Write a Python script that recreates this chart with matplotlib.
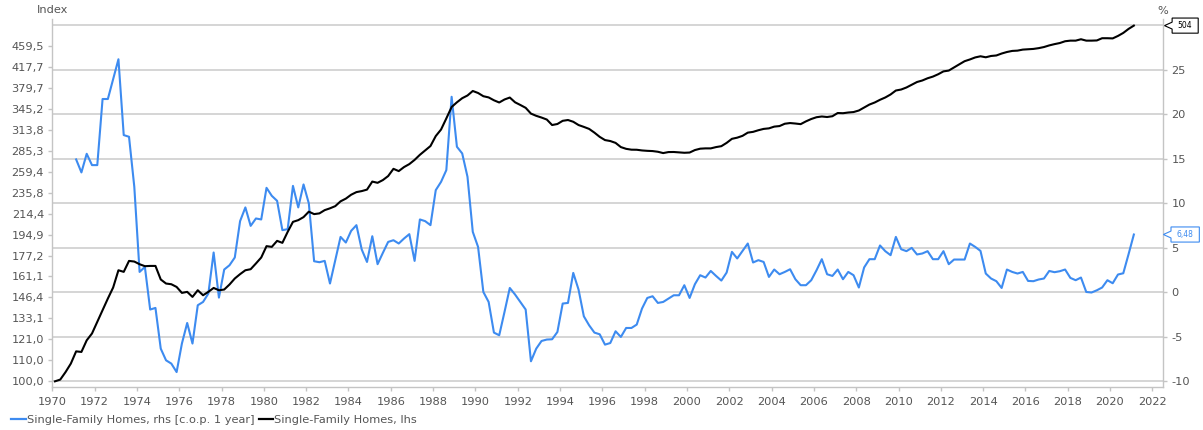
import numpy as np
import pandas as pd
import matplotlib
matplotlib.use("Agg")
import matplotlib.pyplot as plt
from matplotlib.path import Path

plt.rcParams['font.family'] = ['DejaVu Sans']

# --- Data: quarterly, 1970Q1 .. 2021Q1 ---
# Single-family homes price index (lhs, log scale)
homes_index = [
    100.0, 100.8, 104.3, 108.4, 114.6, 114.3, 120.5, 124.3, 131.0, 138.2,
    145.7, 153.2, 165.7, 164.5, 172.9, 172.4, 170.3, 168.8, 169.0, 169.0,
    158.9, 156.0, 155.5, 153.6, 149.5, 150.2, 146.8, 151.3, 147.9, 150.2,
    152.9, 151.3, 151.8, 155.3, 159.6, 162.8, 165.7, 166.5, 170.9, 175.6,
    184.9, 184.3, 189.4, 187.7, 197.3, 206.5, 208.1,
    211.0, 216.3, 213.9, 214.6, 217.8, 219.6, 221.8, 226.7, 229.5, 233.6,
    236.4, 237.5, 239.1, 248.0, 246.6, 249.7, 254.3, 262.8, 260.1, 264.9,
    268.5, 273.7, 280.1, 285.8, 291.5, 305.0, 314.2, 330.5, 348.1, 355.6,
    362.3, 366.8, 374.4, 371.0, 365.6, 363.6, 358.9, 355.3, 360.2, 363.4,
    355.6, 351.3, 346.8, 337.8, 334.4,
    331.8, 328.8, 320.7, 322.2, 326.9, 328.1, 325.5, 320.7, 318.0, 315.1,
    309.8, 303.9, 299.5, 298.2, 295.7, 290.1, 287.8, 286.7, 286.6, 285.7,
    285.2, 284.9, 284.0, 282.3, 283.6, 283.7, 283.2, 282.7, 283.0, 286.2,
    288.0, 288.4, 288.4, 290.1, 291.3, 295.7, 301.2, 302.8, 305.3, 309.8,
    310.9, 313.2, 315.1, 315.9, 318.4, 319.2,
    322.6, 323.6, 322.9, 322.0, 326.1, 329.6, 332.3, 333.4, 332.6, 333.8,
    338.7, 338.4, 339.5, 340.2, 342.6, 347.3, 352.0, 355.3, 359.7, 363.5,
    368.5, 375.2, 376.9, 380.4, 385.1, 390.0, 392.7, 396.7, 399.7, 404.0,
    409.3, 410.8, 416.8, 422.7, 428.7, 432.1, 436.1, 438.4, 436.4, 439.0,
    440.0, 443.9, 447.0, 449.2, 449.8,
    451.9, 452.6, 453.3, 454.9, 457.2, 460.6, 463.3, 465.6, 469.4, 470.7,
    470.7, 473.7, 470.7, 470.7, 471.1, 475.9, 475.9, 475.5, 480.9, 487.5,
    496.5, 504.0,
]

# Year-on-year change, % (rhs), 1971Q1 .. 2021Q1
homes_yoy = [
    14.91, 13.45, 15.54, 14.27, 14.27, 21.69, 21.69, 23.90, 26.15, 17.64,
    17.45, 11.83, 2.28, 2.84, -1.94, -1.76, -6.33, -7.64, -8.01, -8.96,
    -5.76, -3.45, -5.76, -1.46, -1.09, -0.15, 4.46, -0.60, 2.55, 3.03,
    3.90, 7.98, 9.52, 7.45, 8.28, 8.17, 11.72, 10.82, 10.26, 6.97,
    7.08, 11.94, 9.52,
    12.10, 9.97, 3.48, 3.37, 3.52, 0.98, 3.60, 6.21, 5.58, 6.89,
    7.53, 4.80, 3.40, 6.29, 3.15, 4.42, 5.65, 5.84, 5.47, 6.03,
    6.52, 3.52, 8.17, 7.98, 7.53, 11.46, 12.39, 13.71, 21.94, 16.33,
    15.58, 12.96, 6.78, 5.09, 0.03, -1.09, -4.53, -4.83, -2.21, 0.48,
    -0.26, -1.09, -1.94, -7.75, -6.33, -5.47,
    -5.31, -5.28, -4.46, -1.27, -1.20, 2.17, 0.30, -2.70, -3.71, -4.53,
    -4.72, -5.88, -5.70, -4.38, -5.02, -4.01, -4.01, -3.63, -1.83, -0.64,
    -0.45, -1.20, -1.09, -0.71, -0.34, -0.34, 0.79, -0.64, 0.90, 1.91,
    1.65, 2.39, 1.83, 1.31, 2.21, 4.53, 3.79, 4.64, 5.47, 3.34,
    3.60, 3.40, 1.72, 2.55, 2.02,
    2.28, 2.58, 1.46, 0.79, 0.79, 1.35, 2.47, 3.71, 2.02, 1.83,
    2.55, 1.46, 2.28, 1.91, 0.53, 2.78, 3.71, 3.71, 5.25, 4.61,
    4.16, 6.21, 4.83, 4.61, 4.98, 4.24, 4.35, 4.61, 3.71, 3.71,
    4.61, 3.15, 3.67, 3.67, 3.67, 5.47, 5.09, 4.64, 2.10, 1.54,
    1.24, 0.48, 2.55, 2.28, 2.10,
    2.28, 1.27, 1.24, 1.43, 1.54, 2.39, 2.25, 2.36, 2.55, 1.61,
    1.35, 1.65, 0.03, -0.03, 0.22, 0.53, 1.35, 1.01, 1.99, 2.13,
    4.27, 6.48,
]

left_ticks = [100.0, 110.0, 121.0, 133.1, 146.4, 161.1, 177.2, 194.9, 214.4,
              235.8, 259.4, 285.3, 313.8, 345.2, 379.7, 417.7, 459.5]
right_ticks = [-10, -5, 0, 5, 10, 15, 20, 25]
grid_levels = [-10, -5, 0, 5, 10, 15, 20, 25, 30]
year_ticks = list(range(1970, 2023, 2))

label_blue = "Single-Family Homes, rhs [c.o.p. 1 year]"
label_black = "Single-Family Homes, lhs"
last_index_text = "504"
last_yoy_text = "6,48"

BLUE = '#3d8bf0'
GREY_TXT = '#555555'
GREY_LINE = '#c4c4c4'
FS = 8.2

# quarterly time axis (mid-quarter as fractional year)
q_index = pd.period_range('1970Q1', periods=len(homes_index), freq='Q')
t_index = q_index.year + (q_index.quarter - 1) / 4 + 0.125
q_yoy = pd.period_range('1971Q1', periods=len(homes_yoy), freq='Q')
t_yoy = q_yoy.year + (q_yoy.quarter - 1) / 4 + 0.125


def callout(x0, y0, width, height, mutation_size):
    # rectangle with a small pointer on its left side
    px, py = 0.75 * mutation_size, 0.4 * mutation_size
    tip = 1.0 * mutation_size
    x0, y0 = x0 - px, y0 - py
    x1, y1 = x0 + width + 2 * px, y0 + height + 2 * py
    ym = (y0 + y1) / 2
    h = 0.45 * mutation_size
    verts = [(x0, y0), (x1, y0), (x1, y1), (x0, y1), (x0, ym + h),
             (x0 - tip, ym), (x0, ym - h), (x0, y0)]
    return Path(verts, closed=True)


fig = plt.figure(figsize=(12.03, 4.30), dpi=100)
ax = fig.add_axes([0.0435, 0.0993, 0.9232, 0.8565])
axl = ax.twinx()

ylo, yhi = -10.67, 30.67
ax.set_ylim(ylo, yhi)
ax.set_xlim(1970, 2022.5)

# right axis: yoy %, host of the grid
for g in grid_levels:
    ax.axhline(g, color='#d2d2d2', lw=1.3, zorder=0)
ax.plot(t_yoy, homes_yoy, color=BLUE, lw=1.5, zorder=2)

# left axis: index on log scale, aligned so 100 <-> -10 and 100*1.1^17 <-> 30
axl.set_yscale('log')
axl.set_ylim(100 * 1.1 ** (17 * (ylo + 10) / 40), 100 * 1.1 ** (17 * (yhi + 10) / 40))
axl.plot(t_index, homes_index, color='black', lw=1.5, zorder=3)

# ticks and labels
ax.yaxis.tick_right()
ax.set_yticks(right_ticks)
ax.set_yticklabels([str(v) for v in right_ticks])
ax.set_xticks(year_ticks)
ax.set_xticklabels([str(y) for y in year_ticks])

axl.yaxis.tick_left()
axl.yaxis.set_minor_locator(matplotlib.ticker.NullLocator())
axl.set_yticks(left_ticks)
axl.set_yticklabels([f"{v:.1f}".replace('.', ',') for v in left_ticks])

for a in (ax, axl):
    a.tick_params(axis='both', colors=GREY_LINE, labelcolor=GREY_TXT,
                  labelsize=FS, length=3, width=1, pad=3)
    for s in a.spines.values():
        s.set_visible(False)
ax.tick_params(axis='x', pad=4)
for side in ('left', 'right', 'bottom'):
    ax.spines[side].set_visible(True)
    ax.spines[side].set_color(GREY_LINE)
    ax.spines[side].set_linewidth(1)

fig.text(0.0435, 0.977, "Index", ha='center', va='center', fontsize=FS, color=GREY_TXT)
fig.text(0.9667, 0.975, "%", ha='center', va='center', fontsize=FS, color=GREY_TXT)

# last-value callouts on the right edge
axl.annotate(last_index_text, xy=(1, homes_index[-1]), xycoords=('axes fraction', 'data'),
             xytext=(16, 0), textcoords='offset points', ha='center', va='center',
             fontsize=5.5, color='black', annotation_clip=False,
             bbox=dict(boxstyle=callout, fc='white', ec='black', lw=0.8))
ax.annotate(last_yoy_text, xy=(1, homes_yoy[-1]), xycoords=('axes fraction', 'data'),
            xytext=(16, 0), textcoords='offset points', ha='center', va='center',
            fontsize=5.5, color=BLUE, annotation_clip=False,
            bbox=dict(boxstyle=callout, fc='white', ec=BLUE, lw=0.8))

# legend
h_blue = plt.Line2D([], [], color=BLUE, lw=1.6)
h_black = plt.Line2D([], [], color='black', lw=1.6)
fig.legend([h_blue, h_black], [label_blue, label_black], loc='center left',
           bbox_to_anchor=(0.0095, 0.024), ncol=2, frameon=False, fontsize=FS,
           handlelength=1.25, handletextpad=0.12, columnspacing=0.35,
           labelcolor=GREY_TXT, borderaxespad=0, borderpad=0)

fig.savefig('out.png', dpi=100)
